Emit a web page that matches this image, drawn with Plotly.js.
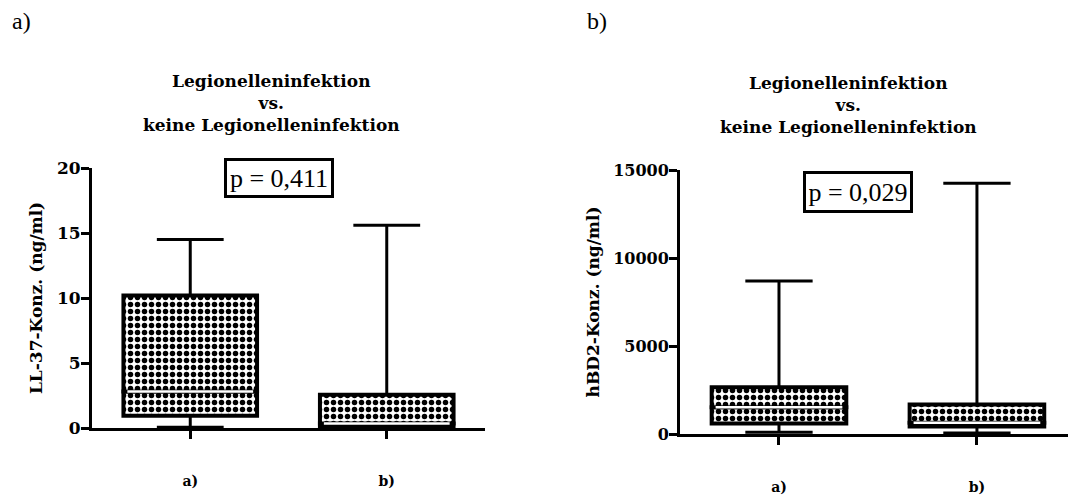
<!DOCTYPE html>
<html>
<head>
<meta charset="utf-8">
<script src="https://cdn.plot.ly/plotly-3.0.1.min.js"></script>
<style>
  html, body { margin: 0; padding: 0; background: #fff; }
  #chart { width: 1068px; height: 497px; }
</style>
</head>
<body>
<div id="chart"></div>
<script>
// Groups on the x axis
const categories = ["a)", "b)"];

// LL-37 concentration (ng/ml): min, quartiles, median, max per group
const ll37Min    = [0.05, 0.05];
const ll37Q1     = [0.95, 0.1];
const ll37Median = [2.8, 0.35];
const ll37Q3     = [10.2, 2.55];
const ll37Max    = [14.5, 15.6];

// hBD2 concentration (ng/ml)
const hbd2Min    = [100, 60];
const hbd2Q1     = [600, 420];
const hbd2Median = [1520, 640];
const hbd2Q3     = [2650, 1680];
const hbd2Max    = [8700, 14250];

// Tick values, tick labels and test results
const ll37Ticks = [0, 5, 10, 15, 20];
const ll37TickText = ["0", "5", "10", "15", "20"];
const hbd2Ticks = [0, 5000, 10000, 15000];
const hbd2TickText = ["0", "5000", "10000", "15000"];
const pLabels = ["p = 0,411", "p = 0,029"];
const titleText = "Legionelleninfektion<br>vs.<br>keine Legionelleninfektion";

const BOX_W = 0.68;    // box width in category units
const CAP_HALF = 0.17; // half width of whisker caps

const boldFont = (size) => ({ family: "DejaVu Serif", size: size, color: "#000", weight: "bold" });

const pattern = {
  shape: ".", fgcolor: "#000", bgcolor: "#fff", size: 7, solidity: 0.48, fillmode: "replace"
};

function boxTraces(mins, q1, med, q3, maxs, xa, ya) {
  const xs = categories.map((_, i) => i);
  // whiskers and caps
  const wx = [], wy = [];
  xs.forEach((c, i) => {
    wx.push(c, c, null, c - CAP_HALF, c + CAP_HALF, null);
    wy.push(q3[i], maxs[i], null, maxs[i], maxs[i], null);
    wx.push(c, c, null, c - CAP_HALF, c + CAP_HALF, null);
    wy.push(mins[i], q1[i], null, mins[i], mins[i], null);
  });
  const whiskers = {
    type: "scatter", mode: "lines", x: wx, y: wy, xaxis: xa, yaxis: ya,
    line: { color: "#000", width: 3 }, hoverinfo: "skip"
  };
  const barStyle = { color: "#fff", pattern: pattern, line: { color: "#000", width: 4 } };
  const lower = {
    type: "bar", x: xs, base: q1, y: med.map((m, i) => m - q1[i]), width: BOX_W,
    xaxis: xa, yaxis: ya, marker: barStyle, hoverinfo: "skip"
  };
  const upper = {
    type: "bar", x: xs, base: med, y: q3.map((q, i) => q - med[i]), width: BOX_W,
    xaxis: xa, yaxis: ya, marker: barStyle, hoverinfo: "skip"
  };
  // median stripe
  const mx = [], my = [];
  xs.forEach((c, i) => {
    mx.push(c - BOX_W / 2 + 0.02, c + BOX_W / 2 - 0.02, null);
    my.push(med[i], med[i], null);
  });
  const median = {
    type: "scatter", mode: "lines", x: mx, y: my, xaxis: xa, yaxis: ya,
    line: { color: "#fff", width: 2.5 }, hoverinfo: "skip"
  };
  return [whiskers, lower, upper, median];
}

const data = [
  ...boxTraces(ll37Min, ll37Q1, ll37Median, ll37Q3, ll37Max, "x", "y"),
  ...boxTraces(hbd2Min, hbd2Q1, hbd2Median, hbd2Q3, hbd2Max, "x2", "y2")
];

const W = 1068, H = 497;
const px = (v) => v / W;
const py = (v) => 1 - v / H;

const xBase = {
  tickvals: [0, 1], ticktext: categories, showline: true, linewidth: 3, linecolor: "#000",
  ticks: "outside", ticklen: 8, tickwidth: 3, tickcolor: "#000",
  tickfont: boldFont(14), ticklabelstandoff: 30,
  showgrid: false, zeroline: false, fixedrange: true
};
const yBase = {
  showline: true, linewidth: 3, linecolor: "#000",
  ticks: "outside", ticklen: 8, tickwidth: 3, tickcolor: "#000",
  ticklabelstandoff: -3,
  showgrid: false, zeroline: false, fixedrange: true
};

const layout = {
  width: W, height: H,
  margin: { l: 0, r: 0, t: 0, b: 0 },
  paper_bgcolor: "#fff", plot_bgcolor: "#fff",
  showlegend: false, barmode: "overlay",
  xaxis: Object.assign({}, xBase, { domain: [px(92), px(485)], range: [-0.5, 1.5], anchor: "y" }),
  yaxis: Object.assign({}, yBase, {
    domain: [py(428), py(168)], range: [0, 20], tickvals: ll37Ticks, ticktext: ll37TickText,
    tickfont: boldFont(17), anchor: "x",
    title: { text: "LL-37-Konz. (ng/ml)", font: boldFont(17), standoff: 10 }
  }),
  xaxis2: Object.assign({}, xBase, { domain: [px(680), 1], range: [-0.5, 1.46], anchor: "y2" }),
  yaxis2: Object.assign({}, yBase, {
    domain: [py(434), py(170)], range: [0, 15000], tickvals: hbd2Ticks, ticktext: hbd2TickText,
    tickfont: boldFont(16), anchor: "x2",
    title: { text: "hBD2-Konz. (ng/ml)", font: boldFont(17), standoff: 10 }
  }),
  annotations: [
    { text: "a)", x: px(10), y: py(21), xref: "paper", yref: "paper", xanchor: "left", yanchor: "middle",
      showarrow: false, font: { family: "Liberation Serif", size: 24, color: "#000" } },
    { text: "b)", x: px(585), y: py(21), xref: "paper", yref: "paper", xanchor: "left", yanchor: "middle",
      showarrow: false, font: { family: "Liberation Serif", size: 24, color: "#000" } },
    { text: titleText, x: px(271), y: py(103), xref: "paper", yref: "paper", xanchor: "center", yanchor: "middle",
      showarrow: false, font: boldFont(17), align: "center" },
    { text: titleText, x: px(848), y: py(105), xref: "paper", yref: "paper", xanchor: "center", yanchor: "middle",
      showarrow: false, font: boldFont(17), align: "center" },
    { text: pLabels[0], x: px(279), y: py(178), xref: "paper", yref: "paper", xanchor: "center", yanchor: "middle",
      showarrow: false, font: { family: "Liberation Serif", size: 26, color: "#000" },
      bordercolor: "#000", borderwidth: 3, borderpad: 1, bgcolor: "#fff", width: 102, height: 32 },
    { text: pLabels[1], x: px(858), y: py(192), xref: "paper", yref: "paper", xanchor: "center", yanchor: "middle",
      showarrow: false, font: { family: "Liberation Serif", size: 26, color: "#000" },
      bordercolor: "#000", borderwidth: 3, borderpad: 1, bgcolor: "#fff", width: 102, height: 34 }
  ]
};

Plotly.newPlot("chart", data, layout, { staticPlot: true, displayModeBar: false });
</script>
</body>
</html>
